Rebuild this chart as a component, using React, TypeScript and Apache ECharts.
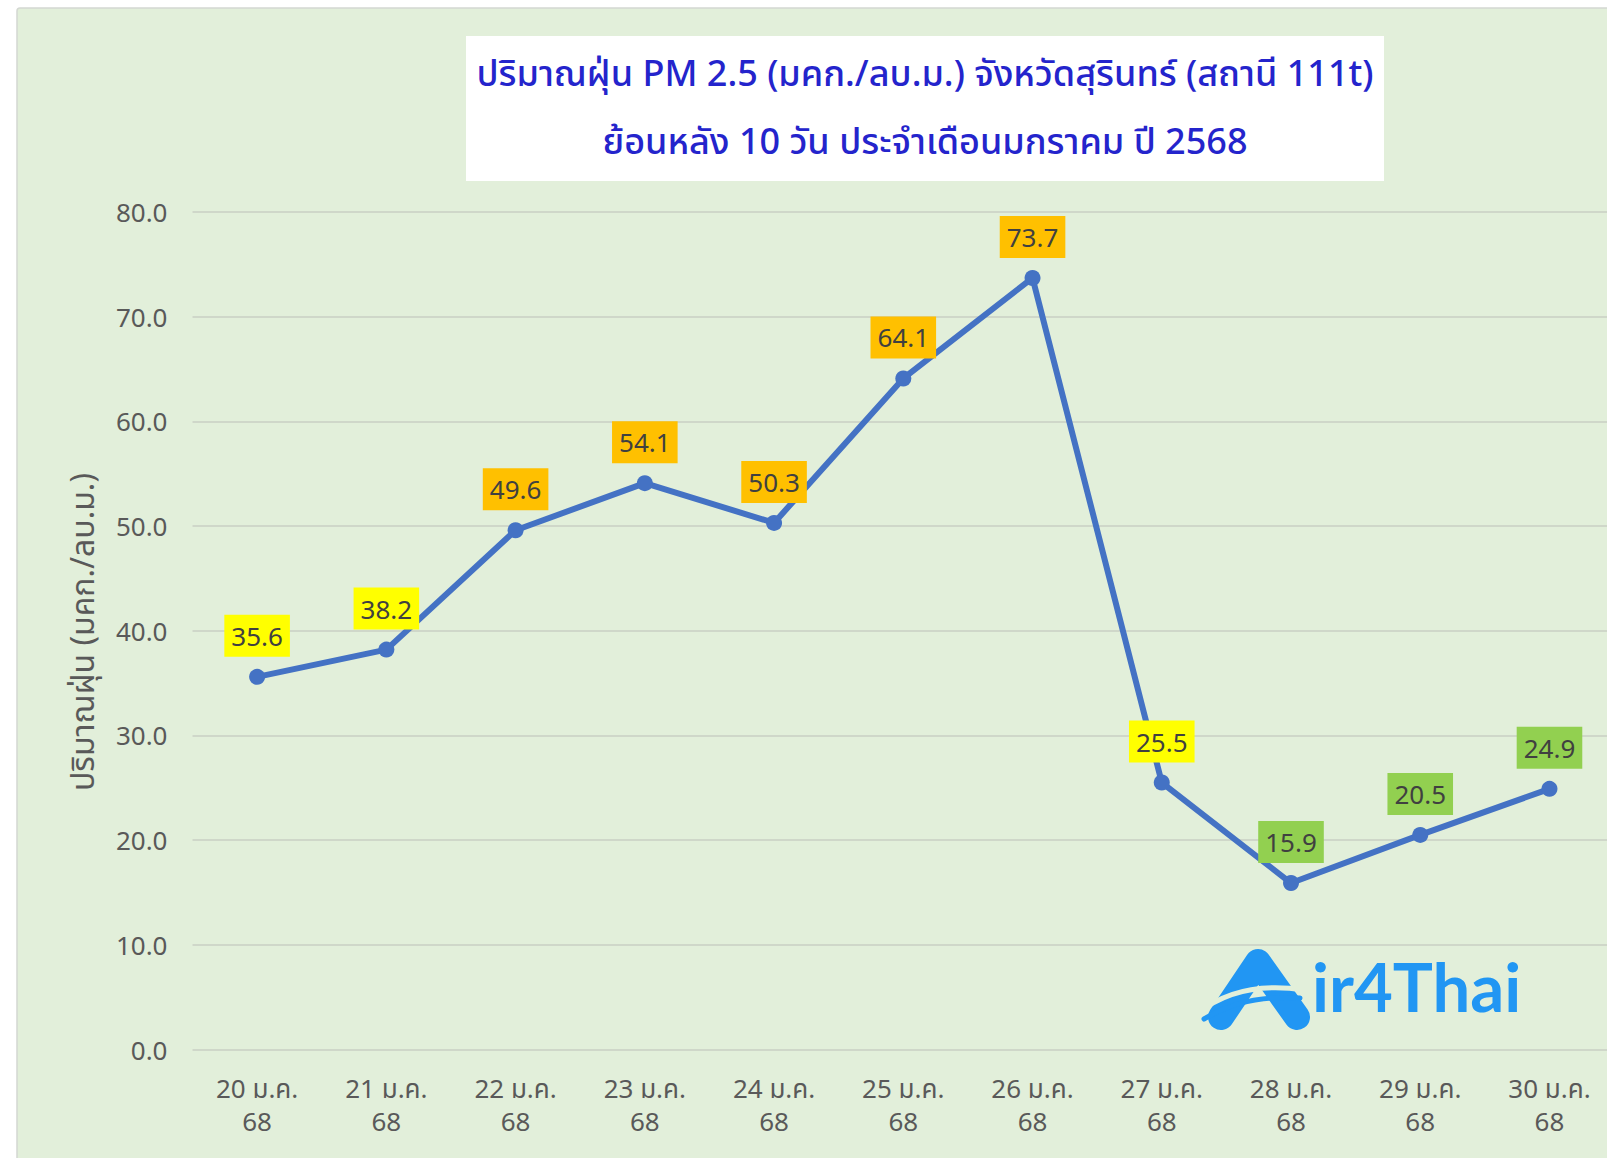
import React, { useEffect, useRef } from "react";
import * as echarts from "echarts";

const days = ["20 ม.ค.\n68", "21 ม.ค.\n68", "22 ม.ค.\n68", "23 ม.ค.\n68", "24 ม.ค.\n68", "25 ม.ค.\n68", "26 ม.ค.\n68", "27 ม.ค.\n68", "28 ม.ค.\n68", "29 ม.ค.\n68", "30 ม.ค.\n68"];
const pm25 = [35.6, 38.2, 49.6, 54.1, 50.3, 64.1, 73.7, 25.5, 15.9, 20.5, 24.9];
const labelColors = ["#FFFF00", "#FFFF00", "#FFC000", "#FFC000", "#FFC000", "#FFC000", "#FFC000", "#FFFF00", "#92D050", "#92D050", "#92D050"];
const titleLines = ["ปริมาณฝุ่น PM 2.5 (มคก./ลบ.ม.) จังหวัดสุรินทร์ (สถานี 111t)", "ย้อนหลัง 10 วัน ประจำเดือนมกราคม ปี 2568"];
const yAxisTitle = "ปริมาณฝุ่น (มคก./ลบ.ม.)";

const FONT = "'Noto Sans', 'Noto Sans Thai', sans-serif";

export default function App() {
  const ref = useRef<HTMLDivElement>(null);
  useEffect(() => {
    document.body.style.margin = "0";
    document.body.style.overflow = "hidden";
    const chart = echarts.init(ref.current!, null, { renderer: "svg" });
    const blue = "#4472C4";
    const logoBlue = "#2196F3";
    const bg = "#E2EFDA";
    chart.setOption({
      animation: false,
      backgroundColor: "#ffffff",
      textStyle: { fontFamily: FONT },
      grid: { left: 192.5, top: 212, width: 1421.6, height: 837.5, containLabel: false },
      xAxis: {
        type: "category",
        data: days,
        boundaryGap: true,
        axisLine: { show: false },
        axisTick: { show: false },
        axisLabel: { color: "#595959", fontSize: 26, lineHeight: 33, margin: 22, interval: 0, fontFamily: FONT },
      },
      yAxis: {
        type: "value",
        min: 0,
        max: 80,
        interval: 10,
        axisLine: { show: false },
        axisTick: { show: false },
        axisLabel: { color: "#595959", fontSize: 26, margin: 25, formatter: (v: number) => v.toFixed(1), fontFamily: FONT },
        splitLine: { lineStyle: { color: "#cfd7c9", width: 2 } },
      },
      graphic: [
        {
          type: "rect",
          z: -10,
          silent: true,
          shape: { x: 17, y: 8, width: 1640, height: 1180, r: 3 },
          style: { fill: bg, stroke: "#d4d8d2", lineWidth: 1.5 },
        },
        {
          type: "rect",
          z: 10,
          shape: { x: 466, y: 36, width: 918, height: 145 },
          style: { fill: "#ffffff" },
        },
        {
          type: "text",
          z: 11,
          x: 925,
          y: 72,
          style: { text: titleLines[0], fill: "#2424CC", font: `500 36px ${FONT}`, align: "center", verticalAlign: "middle" },
        },
        {
          type: "text",
          z: 11,
          x: 925,
          y: 140,
          style: { text: titleLines[1], fill: "#2424CC", font: `500 36px ${FONT}`, align: "center", verticalAlign: "middle" },
        },
        {
          type: "text",
          z: 11,
          x: 81,
          y: 632,
          rotation: Math.PI / 2,
          style: { text: yAxisTitle, fill: "#595959", font: `32px ${FONT}`, align: "center", verticalAlign: "middle" },
        },
        {
          type: "group",
          z: 5,
          children: [
            {
              type: "polyline",
              shape: { points: [[1221, 1017], [1258, 962], [1297, 1017]] },
              style: { stroke: logoBlue, lineWidth: 26, lineCap: "round", lineJoin: "round", fill: "none" },
            },
            {
              type: "bezierCurve",
              shape: { x1: 1198, y1: 1013, cpx1: 1240, cpy1: 980, x2: 1304, y2: 990 },
              style: { stroke: bg, lineWidth: 5, fill: "none" },
            },
            {
              type: "bezierCurve",
              shape: { x1: 1204, y1: 1019, cpx1: 1245, cpy1: 994, x2: 1300, y2: 998 },
              style: { stroke: logoBlue, lineWidth: 5, fill: "none", lineCap: "round" },
            },
            {
              type: "text",
              x: 1312,
              y: 952,
              style: { text: "ir4Thai", fill: logoBlue, font: `bold 67px Lato, sans-serif`, align: "left", verticalAlign: "top" },
            },
          ],
        },
      ],
      series: [
        {
          type: "line",
          data: pm25.map((v, i) => ({
            value: v,
            label: { backgroundColor: labelColors[i] },
          })),
          lineStyle: { color: blue, width: 6 },
          itemStyle: { color: blue },
          symbol: "circle",
          symbolSize: 16,
          z: 3,
          label: {
            show: true,
            position: "top",
            distance: 12,
            formatter: (p: any) => Number(p.value).toFixed(1),
            color: "#404040",
            fontSize: 26,
            fontFamily: FONT,
            padding: [8, 7, 8, 7],
            lineHeight: 26,
          },
        },
      ],
    });
    return () => chart.dispose();
  }, []);
  return (
    <div style={{ position: "absolute", left: 0, top: 0, width: 1607, height: 1158, overflow: "hidden" }}>
      <div ref={ref} style={{ position: "absolute", left: 0, top: 0, width: 1660, height: 1158 }} />
    </div>
  );
}
